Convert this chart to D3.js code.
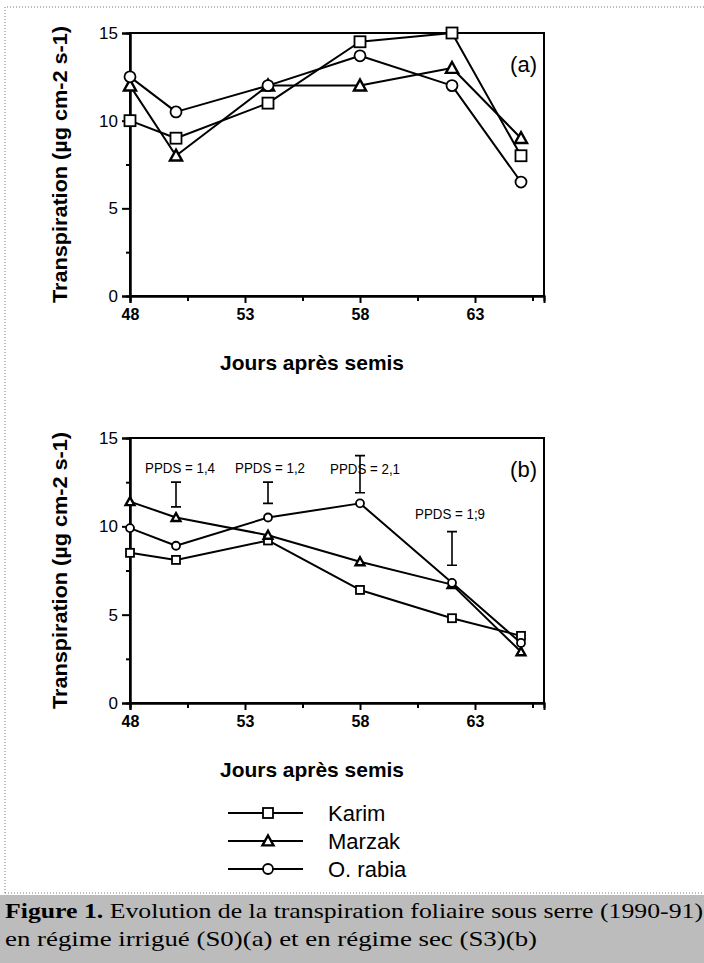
<!DOCTYPE html>
<html>
<head>
<meta charset="utf-8">
<script src="https://cdn.jsdelivr.net/npm/d3@7"></script>
<style>
  body { margin: 0; background: #fff; }
  svg { display: block; }
</style>
</head>
<body>
<script>
// jours apres semis
const days = [48, 50, 54, 58, 62, 65]
const varieties = ['Karim', 'Marzak', 'O. rabia']
const symbols = ['square', 'triangle', 'circle']

// (a) regime irrigue S0
const karimA = [10, 9, 11, 14.5, 15, 8]
const marzakA = [12, 8, 12, 12, 13, 9]
const rabiaA = [12.5, 10.5, 12, 13.7, 12, 6.5]

// (b) regime sec S3
const karimB = [8.5, 8.1, 9.2, 6.4, 4.8, 3.8]
const marzakB = [11.4, 10.5, 9.5, 8, 6.7, 2.9]
const rabiaB = [9.9, 8.9, 10.5, 11.3, 6.8, 3.4]

// PPDS bars in (b)
const ppdsDays = [50, 54, 58, 62]
const ppdsTop = [12.5, 12.5, 14, 9.7]
const ppdsVals = [1.4, 1.2, 2.1, 1.9]
const ppdsLabels = ['PPDS = 1,4', 'PPDS = 1,2', 'PPDS = 2,1', 'PPDS = 1;9']

const xTicks = [48, 53, 58, 63]
const xMinor = [50.5, 55.5, 60.5, 65.5]
const yTicks = [0, 5, 10, 15]
const yMinor = [2.5, 7.5, 12.5]

const W = 704, H = 963
const svg = d3.select('body').append('svg').attr('width', W).attr('height', H)
const font = 'Liberation Sans, Arial, sans-serif'

// dotted frame of the figure
svg.append('path')
  .attr('d', 'M5,893 V7 H704 M5,893 H704')
  .attr('fill', 'none').attr('stroke', '#777').attr('stroke-width', 1)
  .attr('stroke-dasharray', '1,2')

const x = d3.scaleLinear().domain([48, 66]).range([130, 544])

function drawMarker(g, sym, cx, cy, s) {
  if (sym === 'square') {
    g.append('rect').attr('x', cx - s).attr('y', cy - s).attr('width', 2 * s).attr('height', 2 * s)
      .attr('fill', '#fff').attr('stroke', '#000').attr('stroke-width', 1.8)
  } else if (sym === 'circle') {
    g.append('circle').attr('cx', cx).attr('cy', cy).attr('r', s)
      .attr('fill', '#fff').attr('stroke', '#000').attr('stroke-width', 1.8)
  } else {
    const h = s * 1.1
    g.append('path').attr('d', `M${cx},${cy - h} L${cx + h},${cy + h * 0.8} L${cx - h},${cy + h * 0.8} Z`)
      .attr('fill', '#fff').attr('stroke', '#000').attr('stroke-width', 2.4)
  }
}

function panel(top, bottom, series, tag, ms) {
  const y = d3.scaleLinear().domain([0, 15]).range([bottom, top])
  const g = svg.append('g')

  // frame
  g.append('rect').attr('x', x(48)).attr('y', y(15))
    .attr('width', x(66) - x(48)).attr('height', y(0) - y(15))
    .attr('fill', 'none').attr('stroke', '#000').attr('stroke-width', 2)

  // axes
  const ya = g.append('g').attr('transform', `translate(${x(48)},0)`)
    .call(d3.axisLeft(y).tickValues(yTicks).tickSize(8).tickPadding(4))
  const ym = g.append('g').attr('transform', `translate(${x(48)},0)`)
    .call(d3.axisLeft(y).tickValues(yMinor).tickSize(4).tickFormat(''))
  const xa = g.append('g').attr('transform', `translate(0,${y(0)})`)
    .call(d3.axisBottom(x).tickValues(xTicks).tickSize(7).tickPadding(6))
  const xm = g.append('g').attr('transform', `translate(0,${y(0)})`)
    .call(d3.axisBottom(x).tickValues(xMinor).tickSize(5).tickFormat(''))
  for (const a of [ya, ym, xa, xm]) {
    a.select('.domain').attr('stroke-width', 2)
    a.selectAll('line').attr('stroke-width', 2)
  }
  ya.selectAll('text').attr('font-size', 17).attr('font-family', font).attr('fill', '#000')
  xa.selectAll('text').attr('font-size', 16).attr('font-weight', 'bold').attr('font-family', font).attr('fill', '#000')

  // titles
  g.append('text')
    .attr('transform', `translate(67,${(top + bottom) / 2}) rotate(-90)`)
    .attr('text-anchor', 'middle').attr('font-family', font).attr('font-weight', 'bold')
    .attr('font-size', 21).attr('textLength', 277).attr('lengthAdjust', 'spacingAndGlyphs')
    .text('Transpiration (µg cm-2 s-1)')
  g.append('text').attr('x', 312).attr('y', bottom + 74)
    .attr('text-anchor', 'middle').attr('font-family', font).attr('font-weight', 'bold')
    .attr('font-size', 21).attr('textLength', 184).attr('lengthAdjust', 'spacingAndGlyphs')
    .text('Jours après semis')
  g.append('text').attr('x', 537).attr('y', top + 39)
    .attr('text-anchor', 'end').attr('font-family', font).attr('font-size', 22).text(tag)

  // lines and markers
  const line = d3.line().x((d, i) => x(days[i])).y(d => y(d))
  series.forEach((vals, k) => {
    g.append('path').attr('d', line(vals)).attr('fill', 'none')
      .attr('stroke', '#000').attr('stroke-width', 2).attr('stroke-linejoin', 'round')
  })
  series.forEach((vals, k) => {
    vals.forEach((v, i) => drawMarker(g, symbols[k], x(days[i]), y(v), ms))
  })
  return { g, y }
}

panel(33, 296, [karimA, marzakA, rabiaA], '(a)', 5.5)
const pb = panel(438, 703, [karimB, marzakB, rabiaB], '(b)', 4)

// PPDS error bars
const labelDy = [9, 9, -18, 13]
const labelDx = [4, 2, 5, -2]
ppdsDays.forEach((d, i) => {
  const cx = x(d), y1 = pb.y(ppdsTop[i]), y2 = pb.y(ppdsTop[i] - ppdsVals[i])
  pb.g.append('path')
    .attr('d', `M${cx - 5},${y1} H${cx + 5} M${cx},${y1} V${y2} M${cx - 5},${y2} H${cx + 5}`)
    .attr('stroke', '#000').attr('stroke-width', 1.6).attr('fill', 'none')
  pb.g.append('text').attr('x', cx + labelDx[i]).attr('y', y1 - labelDy[i])
    .attr('text-anchor', 'middle').attr('font-family', font).attr('font-size', 14)
    .attr('textLength', 70).attr('lengthAdjust', 'spacingAndGlyphs')
    .text(ppdsLabels[i])
})

// legend
const leg = svg.append('g')
varieties.forEach((name, k) => {
  const ly = 813 + k * 28
  leg.append('line').attr('x1', 228).attr('x2', 303).attr('y1', ly).attr('y2', ly)
    .attr('stroke', '#000').attr('stroke-width', 2)
  drawMarker(leg, symbols[k], 268, ly, 5)
  leg.append('text').attr('x', 328).attr('y', ly + 8).attr('font-family', font)
    .attr('font-size', 22).text(name)
})

// caption
svg.append('rect').attr('x', 0).attr('y', 895).attr('width', W).attr('height', H - 895).attr('fill', '#bcbcbc')
const serif = 'Liberation Serif, Times New Roman, serif'
const c1 = svg.append('text').attr('x', 5).attr('y', 918).attr('font-family', serif).attr('font-size', 22)
  .attr('textLength', 698).attr('lengthAdjust', 'spacingAndGlyphs')
c1.append('tspan').attr('font-weight', 'bold').text('Figure 1.')
c1.append('tspan').text(' Evolution de la transpiration foliaire sous serre (1990-91)')
svg.append('text').attr('x', 5).attr('y', 946).attr('font-family', serif).attr('font-size', 22)
  .attr('textLength', 532).attr('lengthAdjust', 'spacingAndGlyphs')
  .text('en régime irrigué (S0)(a) et en régime sec (S3)(b)')
</script>
</body>
</html>
